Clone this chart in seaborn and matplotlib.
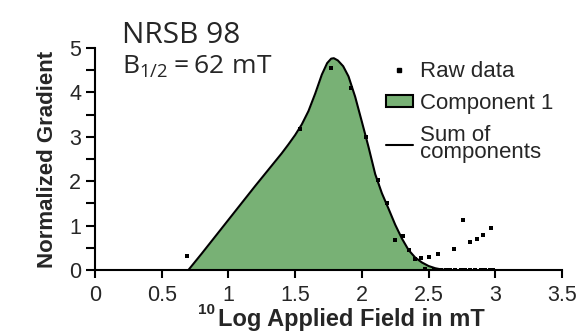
import matplotlib
matplotlib.use("Agg")
import matplotlib.pyplot as plt
import seaborn as sns
import pandas as pd
from matplotlib.lines import Line2D
from matplotlib.patches import Patch

# Measured gradient (log10 of applied field in mT, normalized gradient)
raw_x = [0.69, 1.537, 1.77, 1.92, 2.03, 2.12, 2.19, 2.25, 2.31, 2.35, 2.40,
         2.44, 2.50, 2.57, 2.69, 2.76, 2.81, 2.86, 2.91, 2.97,
         2.47, 2.54, 2.59, 2.63, 2.66, 2.70, 2.74, 2.77, 2.81, 2.85, 2.89,
         2.92, 2.96, 2.98]
raw_y = [0.32, 3.18, 4.56, 4.11, 3.00, 2.02, 1.50, 0.68, 0.77, 0.44, 0.24,
         0.26, 0.30, 0.35, 0.48, 1.12, 0.63, 0.69, 0.79, 0.94,
         0.02, 0.01, 0.01, 0.01, 0.01, 0.01, 0.01, 0.01, 0.01, 0.01, 0.01,
         0.01, 0.01, 0.01]

# Fitted component 1 (also the sum of components, only one component)
fit_x = [0.70, 0.80, 0.90, 1.00, 1.10, 1.20, 1.30, 1.40, 1.45, 1.50, 1.55,
         1.60, 1.65, 1.70, 1.74, 1.77, 1.79, 1.82, 1.86, 1.90, 1.95, 2.00,
         2.05, 2.10, 2.15, 2.20, 2.25, 2.30, 2.35, 2.40, 2.45, 2.50, 2.55,
         2.60, 2.65]
fit_y = [0.00, 0.37, 0.75, 1.13, 1.51, 1.89, 2.26, 2.63, 2.83, 3.04, 3.28,
         3.58, 3.97, 4.40, 4.66, 4.76, 4.77, 4.72, 4.59, 4.36, 3.90, 3.34,
         2.77, 2.16, 1.73, 1.38, 1.02, 0.71, 0.45, 0.28, 0.17, 0.09, 0.04,
         0.01, 0.00]

sns.set_theme(style="ticks")
plt.rcParams["font.family"] = ["Liberation Sans", "DejaVu Sans"]

raw = pd.DataFrame({"field": raw_x, "gradient": raw_y})
fit = pd.DataFrame({"field": fit_x, "gradient": fit_y})

green = "#78B175"

fig = plt.figure(figsize=(5.88, 3.32), dpi=100)
ax = fig.add_axes([95 / 588, 62 / 332, 467 / 588, 222 / 332])

ax.fill_between(fit["field"], 0, fit["gradient"], color=green, lw=0, zorder=1)
sns.lineplot(data=fit, x="field", y="gradient", sort=False, color="black",
             lw=1.5, ax=ax, zorder=2)
sns.scatterplot(data=raw, x="field", y="gradient", marker="s", s=10,
                color="black", linewidth=0, ax=ax, zorder=3)

ax.set_xlim(0, 3.5)
ax.set_ylim(0, 5)
ax.set_xticks([0, 0.5, 1, 1.5, 2, 2.5, 3, 3.5])
ax.set_xticklabels(["0", "0.5", "1", "1.5", "2", "2.5", "3", "3.5"])
ax.set_yticks([0, 1, 2, 3, 4, 5])
ax.set_yticks([0.5, 1.5, 2.5, 3.5, 4.5], minor=True)
ax.set_xlabel("")
ax.set_ylabel("Normalized Gradient", fontsize=16, fontweight="bold",
              labelpad=8)

for s in ["top", "right"]:
    ax.spines[s].set_visible(False)
for s in ["left", "bottom"]:
    ax.spines[s].set_linewidth(1.5)
    ax.spines[s].set_color("black")
ax.tick_params(axis="x", which="major", direction="out", length=6, width=1.5,
               labelsize=15.5, pad=5, color="black")
ax.tick_params(axis="y", which="both", direction="out", length=6.5, width=1.5,
               labelsize=15.5, pad=3.5, color="black")

# Axis title with the base-10 superscript in front
fig.text(198 / 588, 1 - 314 / 332, "10", fontsize=11, fontweight="bold",
         ha="left", va="baseline")
fig.text(218 / 588, 1 - 326 / 332, "Log Applied Field in mT", fontsize=17,
         fontweight="bold", ha="left", va="baseline")

# Sample name and median destructive field
fig.text(122 / 588, 1 - 43 / 332, "NRSB 98", fontsize=21.5,
         family="Open Sans", ha="left", va="baseline")
fig.text(122 / 588, 1 - 74 / 332, r"$\mathregular{B_{1/2}=62\ mT}$",
         fontsize=19, family="Open Sans", ha="left", va="baseline")

handles = [
    Line2D([], [], marker="s", ls="none", color="black", markersize=3.2),
    Patch(facecolor=green, edgecolor="black", lw=1.5),
    Line2D([], [], color="black", lw=1.5),
]
leg = ax.legend(handles, ["Raw data", "Component 1", "Sum of\ncomponents"],
                loc="upper left", bbox_to_anchor=(386 / 588, 1 - 61 / 332),
                bbox_transform=fig.transFigure, frameon=False, fontsize=16,
                handlelength=1.2, handleheight=0.45, handletextpad=0.35,
                labelspacing=0.5, borderpad=0, borderaxespad=0)
leg.get_texts()[2].set_linespacing(0.75)

fig.savefig("out.png", dpi=100)
